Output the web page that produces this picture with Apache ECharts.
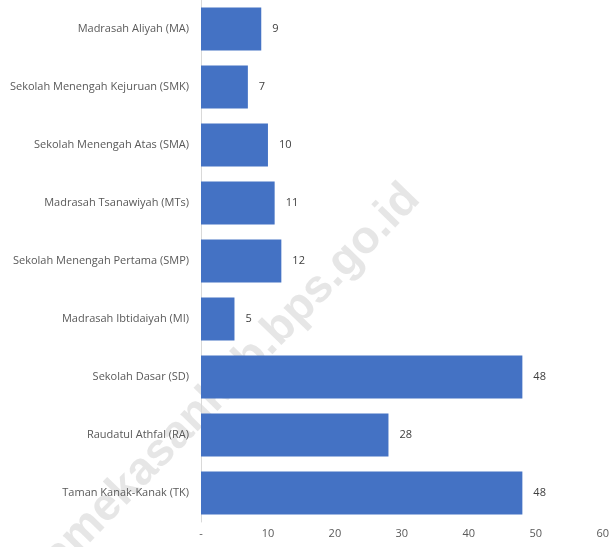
<!DOCTYPE html>
<html>
<head>
<meta charset="utf-8">
<script src="https://cdn.jsdelivr.net/npm/echarts@6/dist/echarts.min.js"></script>
<style>
  html, body { margin: 0; padding: 0; background: #fff; }
  #chart { width: 612px; height: 547px; }
</style>
</head>
<body>
<div id="chart"></div>
<script>
// categories from bottom to top (category axis starts at the bottom)
const categories = [
  'Taman Kanak-Kanak (TK)',
  'Raudatul Athfal (RA)',
  'Sekolah Dasar (SD)',
  'Madrasah Ibtidaiyah (MI)',
  'Sekolah Menengah Pertama (SMP)',
  'Madrasah Tsanawiyah (MTs)',
  'Sekolah Menengah Atas (SMA)',
  'Sekolah Menengah Kejuruan (SMK)',
  'Madrasah Aliyah (MA)'
]
const jumlah = [48, 28, 48, 5, 12, 11, 10, 7, 9]
const xTicks = [0, 10, 20, 30, 40, 50, 60]

const chart = echarts.init(document.getElementById('chart'))
const font = '"Open Sans", sans-serif'

chart.setOption({
  animation: false,
  grid: { left: 201, right: 6, top: 0, bottom: 25 },
  graphic: [
    {
      // watermark
      type: 'text',
      z: -1,
      x: 222,
      y: 388,
      rotation: Math.PI / 4 * 1.02,
      style: {
        text: 'pamekasankab.bps.go.id',
        fontFamily: 'Liberation Sans, sans-serif',
        fontWeight: 'bold',
        fontSize: 46,
        fill: 'rgba(205,205,205,0.5)',
        align: 'center',
        verticalAlign: 'middle'
      }
    }
  ],
  xAxis: {
    type: 'value',
    min: xTicks[0],
    max: xTicks[xTicks.length - 1],
    interval: 10,
    axisLine: { show: false },
    axisTick: { show: false },
    splitLine: { show: false },
    axisLabel: {
      color: '#595959',
      fontFamily: font,
      fontSize: 11,
      margin: 6,
      formatter: v => (v === 0 ? '-' : String(v))
    }
  },
  yAxis: {
    type: 'category',
    data: categories,
    axisLine: { show: true, lineStyle: { color: '#d9d9d9', width: 1 } },
    axisTick: { show: false },
    axisLabel: {
      color: '#595959',
      fontFamily: font,
      fontSize: 11,
      margin: 12
    }
  },
  series: [
    {
      type: 'bar',
      data: jumlah,
      barCategoryGap: '26%',
      itemStyle: { color: '#4472C4' },
      label: {
        show: true,
        position: 'right',
        distance: 11,
        color: '#404040',
        fontFamily: font,
        fontSize: 11
      }
    }
  ]
})
</script>
</body>
</html>
